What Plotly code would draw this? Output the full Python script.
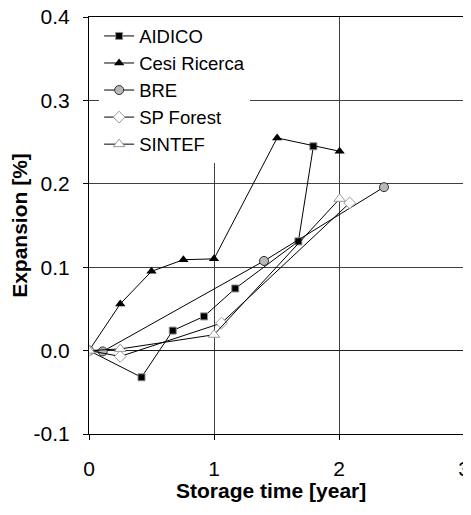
import plotly.graph_objects as go

# Data
aidico_x = [0, 0.42, 0.67, 0.92, 1.17, 1.675, 1.795]
aidico_y = [0, -0.032, 0.024, 0.041, 0.0745, 0.131, 0.245]

cesi_x = [0, 0.25, 0.50, 0.755, 1.0, 1.505, 2.005]
cesi_y = [0, 0.056, 0.095, 0.109, 0.110, 0.255, 0.239]

bre_x = [0, 0.11, 1.40, 2.36]
bre_y = [0, -0.001, 0.1075, 0.196]

spf_x = [0, 0.25, 1.06, 2.085]
spf_y = [0, -0.007, 0.033, 0.177]

sintef_x = [0, 0.25, 1.0, 2.005]
sintef_y = [0, 0.002, 0.019, 0.182]

x_ticks = [0, 1, 2, 3]
y_ticks = [-0.1, 0.0, 0.1, 0.2, 0.3, 0.4]
y_tick_text = ["-0.1", "0.0", "0.1", "0.2", "0.3", "0.4"]

x_title = "<b>Storage time [year]</b>"
y_title = "<b>Expansion [%]</b>"

FONT = "Liberation Sans, Arial, sans-serif"

fig = go.Figure()

fig.add_trace(go.Scatter(
    x=aidico_x, y=aidico_y, name="AIDICO", mode="lines+markers",
    line=dict(color="black", width=1),
    marker=dict(symbol="square", size=7, color="black", line=dict(color="#909090", width=1)),
))
fig.add_trace(go.Scatter(
    x=cesi_x, y=cesi_y, name="Cesi Ricerca", mode="lines+markers",
    line=dict(color="black", width=1),
    marker=dict(symbol="triangle-up", size=9, color="black", line=dict(color="black", width=0)),
))
fig.add_trace(go.Scatter(
    x=bre_x, y=bre_y, name="BRE", mode="lines+markers",
    line=dict(color="black", width=1),
    marker=dict(symbol="circle", size=9, color="#b8b8b8", line=dict(color="#303030", width=1)),
))
fig.add_trace(go.Scatter(
    x=spf_x, y=spf_y, name="SP Forest", mode="lines+markers",
    line=dict(color="black", width=1),
    marker=dict(symbol="diamond", size=9, color="white", line=dict(color="#999999", width=1)),
))
fig.add_trace(go.Scatter(
    x=sintef_x, y=sintef_y, name="SINTEF", mode="lines+markers",
    line=dict(color="black", width=1),
    marker=dict(symbol="triangle-up", size=10, color="white", line=dict(color="#999999", width=1)),
))

# The page body has an 8px default margin, so the figure is sized to fit inside it
fig.update_layout(
    width=463, height=495,
    margin=dict(l=81, r=7, t=9, b=69),
    paper_bgcolor="white", plot_bgcolor="white",
    font=dict(family=FONT, size=21, color="black"),
    showlegend=True,
    legend=dict(
        x=0.027, y=0.999, xanchor="left", yanchor="top",
        bgcolor="white", borderwidth=0,
        font=dict(family=FONT, size=18.5, color="black"),
        itemwidth=30, tracegroupgap=0,
    ),
    xaxis=dict(
        range=[0, 3], tickvals=x_ticks, ticktext=[str(v) for v in x_ticks],
        showgrid=True, gridcolor="#404040", gridwidth=1,
        zeroline=False, automargin=False,
        showline=True, linecolor="black", linewidth=1, mirror=True,
        ticks="outside", ticklen=5, tickcolor="black",
        ticklabelstandoff=11, ticklabeloverflow="allow",
        tickfont=dict(family=FONT, size=21),
    ),
    yaxis=dict(
        range=[-0.1, 0.4], tickvals=y_ticks, ticktext=y_tick_text,
        showgrid=True, gridcolor="#404040", gridwidth=1,
        zeroline=True, zerolinecolor="#202020", zerolinewidth=1,
        automargin=False,
        showline=True, linecolor="black", linewidth=1, mirror=True,
        ticks="outside", ticklen=5, tickcolor="black",
        ticklabelstandoff=9, ticklabeloverflow="allow",
        tickfont=dict(family=FONT, size=21),
        title=dict(text=y_title, font=dict(family=FONT, size=21), standoff=0),
    ),
    annotations=[dict(
        text=x_title, xref="paper", yref="paper", x=0.485, y=-0.1343,
        xanchor="center", yanchor="middle", showarrow=False,
        font=dict(family=FONT, size=21, color="black"),
    )],
)

fig.write_html("out.html")
